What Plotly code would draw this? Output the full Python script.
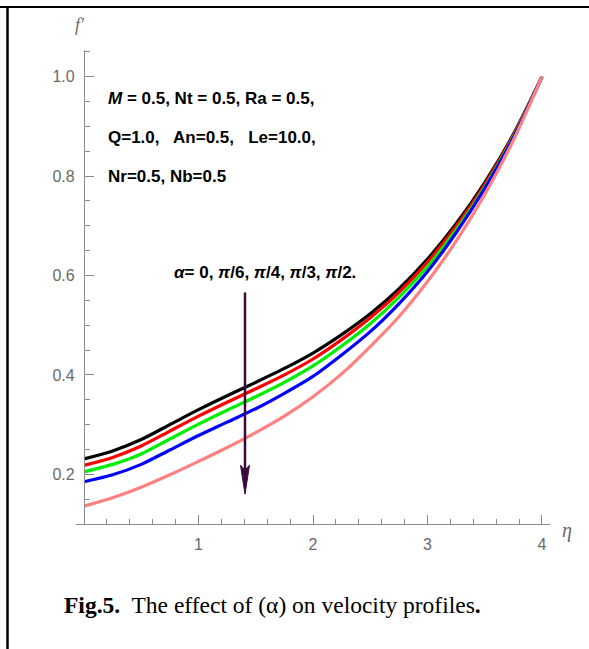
import plotly.graph_objects as go

# ---------------- data ----------------
eta = [0.0, 0.25, 0.5, 0.75, 1.0, 1.25, 1.5, 1.75, 2.0, 2.25, 2.5, 2.75, 3.0, 3.25, 3.5, 3.75, 4.0]

f_alpha_0 = [0.231, 0.247, 0.270, 0.300, 0.330, 0.358, 0.385, 0.413, 0.444, 0.481, 0.523, 0.573, 0.633, 0.704, 0.787, 0.884, 1.0]
f_alpha_pi6 = [0.218, 0.234, 0.257, 0.287, 0.317, 0.345, 0.372, 0.400, 0.432, 0.471, 0.515, 0.566, 0.627, 0.699, 0.783, 0.882, 1.0]
f_alpha_pi4 = [0.205, 0.220, 0.241, 0.271, 0.301, 0.329, 0.356, 0.385, 0.418, 0.458, 0.503, 0.556, 0.618, 0.692, 0.778, 0.879, 1.0]
f_alpha_pi3 = [0.185, 0.199, 0.220, 0.249, 0.278, 0.305, 0.332, 0.363, 0.397, 0.440, 0.487, 0.543, 0.608, 0.686, 0.775, 0.877, 1.0]
f_alpha_pi2 = [0.136, 0.153, 0.174, 0.199, 0.226, 0.254, 0.284, 0.317, 0.356, 0.402, 0.457, 0.517, 0.588, 0.669, 0.763, 0.872, 1.0]

series = [
    ("α = 0", f_alpha_0, "#000000"),
    ("α = π/6", f_alpha_pi6, "#ff0000"),
    ("α = π/4", f_alpha_pi4, "#00ee00"),
    ("α = π/3", f_alpha_pi3, "#0000ff"),
    ("α = π/2", f_alpha_pi2, "#ff8080"),
]

x_ticks = [1, 2, 3, 4]
y_ticks = [0.2, 0.4, 0.6, 0.8, 1.0]
y_tick_text = ["0.2", "0.4", "0.6", "0.8", "1.0"]

# ---------------- layout geometry ----------------
W, H = 589, 649
ml, mr, mt, mb = 76, 39, 50, 125
pw, ph = W - ml - mr, H - mt - mb
x_range = [-0.07, 4.07]
y_range = [0.1, 0.1 + ph / 497.0]
px_per_x = pw / (x_range[1] - x_range[0])
px_per_y = ph / (y_range[1] - y_range[0])

def px_x(px):  # pixel -> paper
    return (px - ml) / pw

def px_y(py):
    return (H - mb - py) / ph

AX = "#8a8a8a"
LBL = "#6a6a6a"
SANS = "Liberation Sans, Arial, sans-serif"

fig = go.Figure()
for name, ys, col in series:
    fig.add_trace(go.Scatter(x=eta, y=ys, mode="lines", name=name,
                             line=dict(color=col, width=3.2, shape="spline", smoothing=0.8),
                             showlegend=False, hoverinfo="skip"))

# arrow (annotation)
arrow_x = 1.406
arrow_tail = 0.566
arrow_tip = 0.160
head_len = 29 / px_per_y
head_half = 4.5 / px_per_x
notch = 5 / px_per_y
arrow_col = "#3a0b3a"

shapes = [
    dict(type="line", xref="x", yref="y", x0=arrow_x, x1=arrow_x, y0=arrow_tail,
         y1=arrow_tip + head_len - notch, line=dict(color=arrow_col, width=2.5)),
    dict(type="path", xref="x", yref="y",
         path=(f"M {arrow_x - head_half},{arrow_tip + head_len} L {arrow_x},{arrow_tip} "
               f"L {arrow_x + head_half},{arrow_tip + head_len} L {arrow_x},{arrow_tip + head_len - notch} Z"),
         fillcolor=arrow_col, line=dict(color=arrow_col, width=1)),
    # page borders
    dict(type="line", xref="paper", yref="paper", x0=px_x(7.5), x1=px_x(7.5), y0=px_y(7), y1=px_y(H + 2),
         line=dict(color="black", width=2.5)),
    dict(type="line", xref="paper", yref="paper", x0=px_x(-2), x1=px_x(W + 2), y0=px_y(7), y1=px_y(7),
         line=dict(color="black", width=2)),
]

annotations = [
    dict(text="<i>f′</i>", x=px_x(80), y=px_y(25), xref="paper", yref="paper", showarrow=False,
         xanchor="center", yanchor="middle", font=dict(family="Liberation Serif", size=18, color=LBL)),
    dict(text="<i>η</i>", x=px_x(567), y=px_y(530), xref="paper", yref="paper", showarrow=False,
         xanchor="center", yanchor="middle", font=dict(family="Liberation Serif", size=20, color=LBL)),
    dict(text="<b><i>M</i> = 0.5, Nt = 0.5, Ra = 0.5,</b>", x=px_x(106), y=px_y(98), xref="paper", yref="paper",
         showarrow=False, xanchor="left", yanchor="middle", font=dict(family=SANS, size=17, color="black")),
    dict(text="<b>Q=1.0,&nbsp;&nbsp; An=0.5,&nbsp;&nbsp; Le=10.0,</b>", x=px_x(106), y=px_y(137), xref="paper", yref="paper",
         showarrow=False, xanchor="left", yanchor="middle", font=dict(family=SANS, size=17, color="black")),
    dict(text="<b>Nr=0.5, Nb=0.5</b>", x=px_x(106), y=px_y(176), xref="paper", yref="paper",
         showarrow=False, xanchor="left", yanchor="middle", font=dict(family=SANS, size=17, color="black")),
    dict(text="<b><i>α</i>= 0, <i>π</i>/6, <i>π</i>/4, <i>π</i>/3, <i>π</i>/2.</b>", x=px_x(172), y=px_y(272),
         xref="paper", yref="paper", showarrow=False, xanchor="left", yanchor="middle",
         font=dict(family=SANS, size=17, color="black")),
    dict(text="<b>Fig.5.</b>&nbsp; The effect of (α) on velocity profiles<b>.</b>", x=px_x(62), y=px_y(605),
         xref="paper", yref="paper", showarrow=False, xanchor="left", yanchor="middle",
         font=dict(family="Liberation Serif, Times New Roman, serif", size=23.5, color="black")),
]

fig.update_layout(
    width=W, height=H,
    margin=dict(l=ml, r=mr, t=mt, b=mb),
    paper_bgcolor="white", plot_bgcolor="white",
    shapes=shapes, annotations=annotations,
    xaxis=dict(range=x_range, showgrid=False, zeroline=False, showline=True, linecolor=AX, linewidth=1.3,
               tickvals=x_ticks, ticks="inside", ticklen=9, tickcolor=AX, tickwidth=1,
               tickfont=dict(family=SANS, size=16, color=LBL), ticklabelstandoff=6,
               minor=dict(dtick=0.2, tick0=0, ticks="inside", ticklen=5, tickcolor=AX, tickwidth=1)),
    yaxis=dict(range=y_range, anchor="free", position=px_x(84), showgrid=False, zeroline=False,
               showline=True, linecolor=AX, linewidth=1.3,
               tickvals=y_ticks, ticktext=y_tick_text, ticks="inside", ticklen=9, tickcolor=AX, tickwidth=1,
               tickfont=dict(family=SANS, size=16, color=LBL), ticklabelstandoff=6,
               minor=dict(dtick=0.05, tick0=0, ticks="inside", ticklen=5, tickcolor=AX, tickwidth=1)),
)

fig.write_html("out.html")
